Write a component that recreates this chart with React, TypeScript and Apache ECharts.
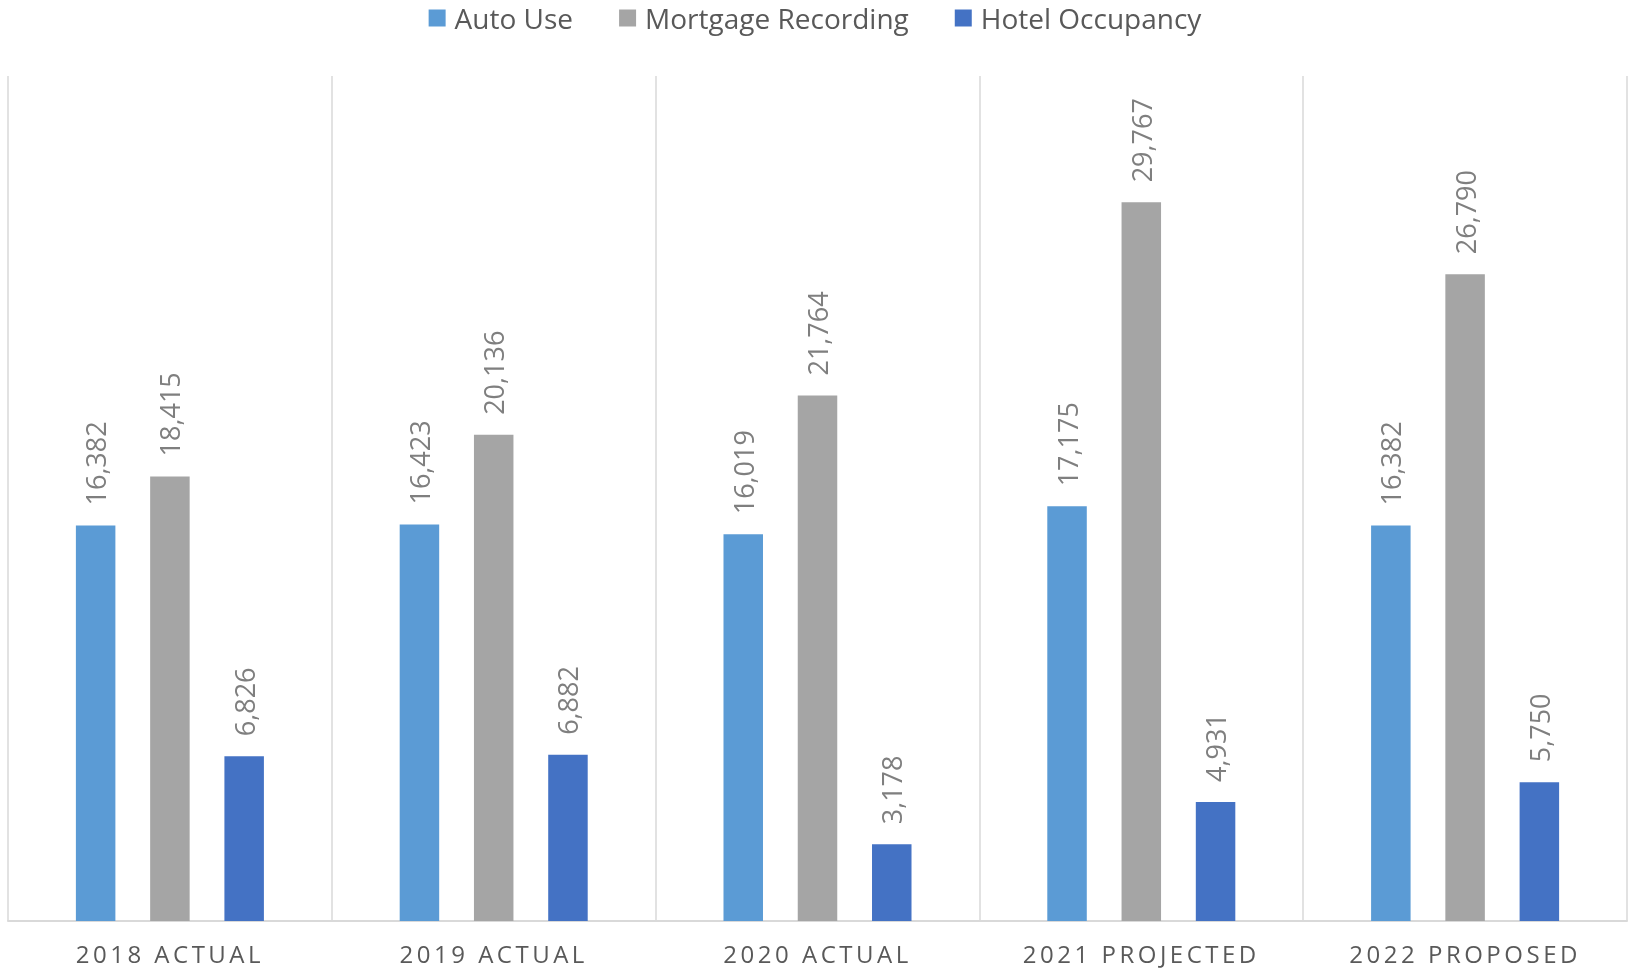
import React, { useEffect, useRef } from "react";
import * as echarts from "echarts";

const categories = ["2018 ACTUAL", "2019 ACTUAL", "2020 ACTUAL", "2021 PROJECTED", "2022 PROPOSED"];
const seriesNames = ["Auto Use", "Mortgage Recording", "Hotel Occupancy"];
const autoUse = [16382, 16423, 16019, 17175, 16382];
const mortgageRecording = [18415, 20136, 21764, 29767, 26790];
const hotelOccupancy = [6826, 6882, 3178, 4931, 5750];
const colors = ["#5B9BD5", "#A5A5A5", "#4472C4"];

const FONT = "'Open Sans', 'Noto Sans', sans-serif";

export default function App() {
  const ref = useRef<HTMLDivElement>(null);
  useEffect(() => {
    if (!ref.current) return;
    const el = ref.current;
    const chart = echarts.init(el, undefined, { renderer: "svg" });
    const fmt = (p: any) => Number(p.value).toLocaleString("en-US");
    const values = [autoUse, mortgageRecording, hotelOccupancy];
    const spaceLabels = () => {
      el.querySelectorAll("text").forEach((t) => {
        if (categories.includes((t.textContent || "").trim())) {
          (t as SVGTextElement).style.letterSpacing = "3.5px";
        }
      });
    };
    chart.on("finished", spaceLabels);
    chart.setOption({
      animation: false,
      color: colors,
      legend: {
        top: 3,
        left: "center",
        padding: 0,
        itemWidth: 17,
        itemHeight: 17,
        itemGap: 46,
        icon: "rect",
        textStyle: {
          fontFamily: FONT,
          fontSize: 28,
          lineHeight: 30,
          color: "#595959",
          padding: [0, 0, 0, 4],
        },
        data: seriesNames,
      },
      grid: { left: 8, right: 3, top: 76, bottom: 50, containLabel: false },
      xAxis: {
        type: "category",
        data: categories,
        axisLine: { show: true, lineStyle: { color: "#D9D9D9", width: 2 } },
        axisTick: { show: false },
        splitLine: { show: true, lineStyle: { color: "#D9D9D9", width: 1.5 } },
        axisLabel: {
          fontFamily: FONT,
          fontSize: 24,
          lineHeight: 22,
          color: "#595959",
          margin: 21,
        },
      },
      yAxis: {
        type: "value",
        min: 0,
        max: 35000,
        show: false,
        splitLine: { show: false },
      },
      series: seriesNames.map((name, i) => ({
        name,
        type: "bar",
        data: values[i],
        barWidth: 39.5,
        barGap: "88%",
        itemStyle: { color: colors[i] },
        label: {
          show: true,
          position: "top",
          rotate: 90,
          align: "left",
          verticalAlign: "middle",
          distance: 20,
          formatter: fmt,
          fontFamily: FONT,
          fontSize: 27,
          color: "#7F7F7F",
        },
      })),
    });
    spaceLabels();
    return () => chart.dispose();
  }, []);
  return (
    <div
      ref={ref}
      style={{ position: "fixed", left: 0, top: 0, width: 1630, height: 971 }}
    />
  );
}
